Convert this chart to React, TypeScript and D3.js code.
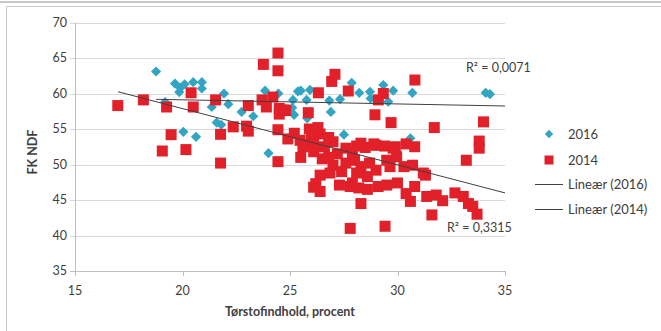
import React from "react";
import * as d3 from "d3";

const xTicks = [15, 20, 25, 30, 35];
const yTicks = [35, 40, 45, 50, 55, 60, 65, 70];

const series2016: [number, number][] = [
  [18.77, 63.1], [19.65, 61.4], [19.9, 60.8], [20.1, 61.3], [20.5, 61.6], [20.9, 61.6],
  [20.9, 60.7], [19.85, 60.2], [21.93, 60.0], [19.19, 58.8], [21.36, 58.1], [22.13, 58.5],
  [22.75, 57.4], [23.29, 56.8], [21.59, 55.9], [21.8, 55.6], [20.04, 54.6], [20.63, 53.9],
  [23.84, 60.4], [24.46, 60.0], [25.14, 59.1], [25.37, 60.3], [24.0, 51.6], [25.1, 58.0],
  [27.87, 61.5], [25.5, 60.4], [25.93, 60.5], [28.22, 60.1], [28.72, 60.25], [29.34, 61.2],
  [29.8, 60.4], [30.69, 60.1], [34.1, 60.1], [34.3, 59.9], [25.77, 59.1], [26.83, 59.0],
  [27.33, 59.2], [28.75, 59.3], [29.57, 58.85], [26.9, 57.4], [25.19, 57.0], [25.8, 56.5],
  [27.51, 54.2], [30.6, 53.7],
];

const series2014: [number, number][] = [
  [16.99, 58.3], [18.18, 59.1], [19.26, 58.1], [20.4, 60.1], [20.5, 58.1], [21.54, 59.1],
  [19.47, 54.2], [19.06, 51.9], [20.16, 52.1], [21.77, 54.25], [21.77, 50.2], [22.36, 55.3],
  [22.98, 55.4], [23.06, 54.7], [23.06, 58.3], [23.76, 64.1], [24.44, 65.7], [24.44, 63.2],
  [23.7, 59.1], [24.2, 59.5], [23.9, 58.1], [24.5, 57.9], [24.5, 57.1], [24.8, 57.6],
  [24.44, 54.9], [24.44, 50.4], [25.47, 53.4], [27.09, 62.7], [26.94, 61.7], [26.32, 60.1],
  [27.71, 60.35], [29.34, 60.0], [29.11, 59.1], [30.81, 61.9], [25.85, 57.3], [28.95, 57.0],
  [29.7, 55.9], [31.71, 55.2], [34.0, 56.0], [33.8, 53.3], [33.8, 52.3], [33.2, 50.6],
  [24.72, 57.7], [26.0, 54.0], [26.4, 54.3], [26.8, 53.8], [25.8, 52.8], [26.1, 53.2],
  [26.6, 52.5], [27.0, 53.2], [26.3, 55.2], [25.9, 55.0], [27.6, 52.3], [28.1, 52.6],
  [28.5, 52.4], [28.9, 52.9], [29.4, 52.6], [29.8, 52.3], [30.4, 52.9], [30.8, 52.5],
  [25.6, 52.5], [26.1, 51.8], [27.0, 49.9], [26.4, 48.5], [26.1, 46.8], [26.4, 46.2],
  [26.2, 47.3], [27.3, 47.1], [27.9, 47.4], [28.2, 46.7], [28.6, 46.5], [29.1, 46.9],
  [29.5, 47.1], [28.3, 44.5], [27.8, 41.0], [29.42, 41.3], [30.0, 47.4], [30.4, 45.9],
  [30.6, 44.8], [30.8, 46.9], [31.3, 48.5], [31.36, 45.5], [31.8, 45.7], [32.1, 44.9],
  [31.6, 42.9], [32.67, 46.0], [33.06, 45.5], [33.3, 44.5], [33.5, 44.1], [33.7, 43.0],
  [28.0, 50.6], [28.3, 49.7], [28.7, 50.2], [29.0, 49.2], [29.5, 50.6], [29.96, 51.1],
  [29.65, 49.7], [30.3, 49.7], [30.7, 49.9], [31.2, 48.8], [28.3, 53.0], [29.0, 52.7],
  [29.9, 52.5], [28.1, 48.8], [28.6, 48.3], [27.8, 46.9], [26.86, 48.8], [27.4, 49.0],
  [25.5, 51.0], [26.5, 50.8], [27.2, 51.5], [27.6, 50.2], [26.8, 51.0], [27.9, 51.7],
  [24.9, 53.6], [25.2, 54.4],
];

const trend2016: [number, number][] = [[18.77, 59.18], [35, 58.24]];
const trend2014: [number, number][] = [[17.0, 60.25], [35, 46.0]];

const legendLabels = ["2016", "2014", "Lineær (2016)", "Lineær (2014)"];
const r2Labels = ["R² = 0,0071", "R² = 0,3315"];

const FONT = "Lato, 'Open Sans', sans-serif";
const BLUE = "#31A5C3";
const RED = "#E2202A";

export default function App() {
  const x = d3.scaleLinear().domain([15, 35]).range([75, 505]);
  const y = d3.scaleLinear().domain([35, 70]).range([271, 22.5]);
  const line = d3.line<[number, number]>().x((d) => x(d[0])).y((d) => y(d[1]));
  const diamond = d3.symbol().type(d3.symbolDiamond2).size(66)() as string;

  return (
    <svg width={661} height={331} style={{ position: "absolute", left: 0, top: 0, background: "#fff" }} fontFamily={FONT}>
      <rect x={0} y={0} width={661} height={331} fill="#fff" />
      <line x1={0} x2={661} y1={2} y2={2} stroke="#C8C8C8" strokeWidth={2} />
      <rect x={6.5} y={6.5} width={700} height={400} fill="none" stroke="#C9C9C9" />
      {yTicks.map((t) => (
        <g key={t}>
          <line x1={70} x2={505} y1={Math.round(y(t)) + 0.5} y2={Math.round(y(t)) + 0.5} stroke={t === 35 ? "#BFBFBF" : "#D9D9D9"} />
          <text x={67} y={y(t)} dy="0.35em" textAnchor="end" fontSize={12.5} fill="#404040">{t}</text>
        </g>
      ))}
      <line x1={75.5} x2={75.5} y1={y(70)} y2={y(35)} stroke="#BFBFBF" />
      {xTicks.map((t) => (
        <g key={t}>
          <line x1={Math.round(x(t)) + 0.5} x2={Math.round(x(t)) + 0.5} y1={y(35)} y2={y(35) + 5} stroke="#BFBFBF" />
          <text x={x(t)} y={291} dy="0.35em" textAnchor="middle" fontSize={12.5} fill="#404040">{t}</text>
        </g>
      ))}
      <text x={290} y={312} dy="0.35em" textAnchor="middle" fontSize={12.5} fontWeight="bold" fill="#404040">Tørstofindhold, procent</text>
      <text transform={`translate(33,152) rotate(-90)`} textAnchor="middle" dy="0.35em" fontSize={12.5} fontWeight="bold" fill="#404040">FK NDF</text>
      {series2016.map((d, i) => (
        <path key={"b" + i} d={diamond} transform={`translate(${x(d[0])},${y(d[1])})`} fill={BLUE} />
      ))}
      {series2014.map((d, i) => (
        <rect key={"r" + i} x={x(d[0]) - 5.5} y={y(d[1]) - 5.5} width={11} height={11} fill={RED} />
      ))}
      <path d={line(trend2016) as string} stroke="#404040" strokeWidth={1} fill="none" />
      <path d={line(trend2014) as string} stroke="#404040" strokeWidth={1} fill="none" />
      <text x={466} y={68} dy="0.35em" fontSize={12.5} fill="#404040">{r2Labels[0]}</text>
      <text x={447} y={228} dy="0.35em" fontSize={12.5} fill="#404040">{r2Labels[1]}</text>
      <path d={d3.symbol().type(d3.symbolDiamond2).size(44)() as string} transform="translate(549,134)" fill={BLUE} />
      <text x={568} y={134} dy="0.35em" fontSize={13} fill="#404040">{legendLabels[0]}</text>
      <rect x={544.5} y={155.5} width={9} height={9} fill={RED} />
      <text x={568} y={160} dy="0.35em" fontSize={13} fill="#404040">{legendLabels[1]}</text>
      <line x1={535} x2={563} y1={184.5} y2={184.5} stroke="#404040" />
      <text x={568} y={184} dy="0.35em" fontSize={13} fill="#404040">{legendLabels[2]}</text>
      <line x1={535} x2={563} y1={209.5} y2={209.5} stroke="#404040" />
      <text x={568} y={209} dy="0.35em" fontSize={13} fill="#404040">{legendLabels[3]}</text>
    </svg>
  );
}
